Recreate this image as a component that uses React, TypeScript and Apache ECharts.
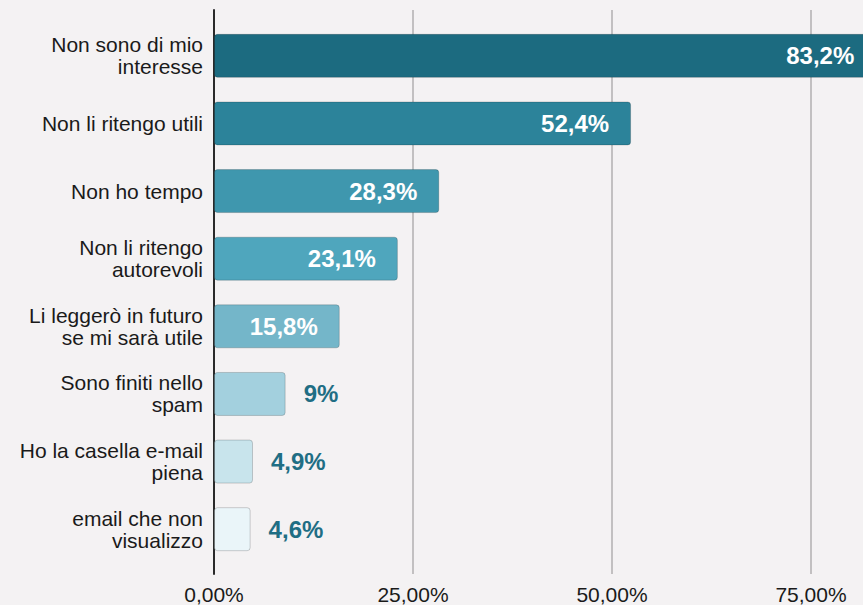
import React, { useEffect, useRef } from "react";
import * as echarts from "echarts";

const categories = [
  "Non sono di mio\ninteresse",
  "Non li ritengo utili",
  "Non ho tempo",
  "Non li ritengo\nautorevoli",
  "Li leggerò in futuro\nse mi sarà utile",
  "Sono finiti nello\nspam",
  "Ho la casella e-mail\npiena",
  "email che non\nvisualizzo",
];
const values = [83.2, 52.4, 28.3, 23.1, 15.8, 9, 4.9, 4.6];
const barColors = [
  "#1c6b80",
  "#2c839a",
  "#3f97ae",
  "#4fa6bd",
  "#74b6c9",
  "#a3d0de",
  "#c8e4ec",
  "#eaf5f9",
];
const insideLabel = [true, true, true, true, true, false, false, false];
const tickValues = [0, 25, 50, 75, 100];

const FONT = "'Liberation Sans', Arial, Helvetica, sans-serif";

function fmtValue(v: number) {
  return String(v).replace(".", ",") + "%";
}

export default function App() {
  const ref = useRef<HTMLDivElement>(null);
  useEffect(() => {
    if (!ref.current) return;
    const chart = echarts.init(ref.current, null, { renderer: "svg" });
    const data = values.map((v, i) => ({
      value: v,
      itemStyle: {
        color: barColors[i],
        borderColor: "rgba(0,0,0,0.18)",
        borderWidth: 1,
        borderRadius: 3,
      },
      label: insideLabel[i]
        ? {
            position: "insideRight",
            distance: 22,
            color: "#ffffff",
          }
        : {
            position: "right",
            distance: 18,
            color: "#1f6e84",
          },
    }));
    chart.setOption({
      animation: false,
      backgroundColor: "#f4f2f3",
      textStyle: { fontFamily: FONT },
      grid: [
        { left: 214, width: 796, top: 10, height: 564, outerBoundsMode: "none", containLabel: false },
        { left: 214, width: 796, top: 22, height: 541, outerBoundsMode: "none", containLabel: false },
      ],
      xAxis: [
        {
          gridIndex: 0,
          type: "value",
          min: tickValues[0],
          max: tickValues[tickValues.length - 1],
          interval: 25,
          axisLine: { show: false },
          axisTick: { show: false },
          splitLine: { show: true, lineStyle: { color: "#c2c0c1", width: 2 } },
          axisLabel: {
            fontSize: 21,
            color: "#1a1a1a",
            fontFamily: FONT,
            margin: 10,
            showMaxLabel: false,
            formatter: (v: number) => v.toFixed(2).replace(".", ",") + "%",
          },
        },
        {
          gridIndex: 1,
          type: "value",
          min: 0,
          max: 100,
          show: false,
        },
      ],
      yAxis: [
        {
          gridIndex: 0,
          type: "value",
          min: 0,
          max: 1,
          axisLine: { show: true, lineStyle: { color: "#2a2a2a", width: 2 } },
          axisTick: { show: false },
          axisLabel: { show: false },
          splitLine: { show: false },
        },
        {
          gridIndex: 1,
          type: "category",
          inverse: true,
          data: categories,
          axisLine: { show: false },
          axisTick: { show: false },
          splitLine: { show: false },
          axisLabel: {
            fontSize: 21,
            color: "#1a1a1a",
            fontFamily: FONT,
            margin: 11,
            lineHeight: 22,
            align: "right",
          },
        },
      ],
      series: [
        {
          type: "bar",
          xAxisIndex: 1,
          yAxisIndex: 1,
          barWidth: 44,
          data,
          label: {
            show: true,
            fontSize: 24,
            fontWeight: "bold",
            fontFamily: FONT,
            formatter: (p: any) => fmtValue(p.value),
          },
        },
      ],
    });
    return () => chart.dispose();
  }, []);
  return <div ref={ref} style={{ width: 863, height: 605, position: "absolute", left: 0, top: 0 }} />;
}
